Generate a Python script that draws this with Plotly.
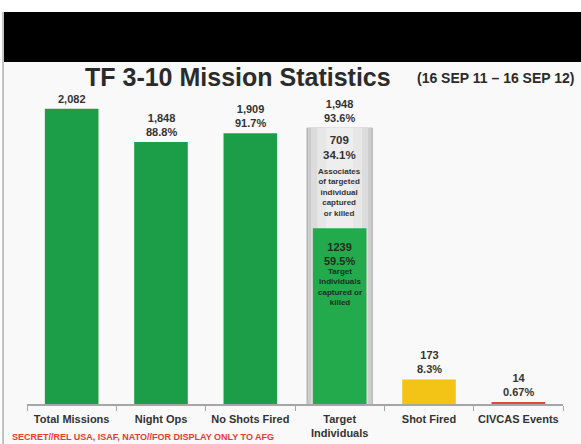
import plotly.graph_objects as go

# ---- data ----
categories = ["Total Missions", "Night Ops", "No Shots Fired", "Target Individuals", "Shot Fired", "CIVCAS Events"]
tick_labels = ["Total Missions", "Night Ops", "No Shots Fired", "Target<br>Individuals", "Shot Fired", "CIVCAS Events"]
values = [2082, 1848, 1909, 1948, 173, 14]
value_labels = ["2,082", "1,848<br>88.8%", "1,909<br>91.7%", "1,948<br>93.6%", "173<br>8.3%", "14<br>0.67%"]

target_individuals = 1239
target_associates = 709
associates_label = "709<br>34.1%"
associates_desc = "Associates<br>of targeted<br>individual<br>captured<br>or killed"
targets_label = "1239<br>59.5%"
targets_desc = "Target<br>individuals<br>captured or<br>killed"

title_text = "TF 3-10 Mission Statistics"
period_text = "(16 SEP 11 – 16 SEP 12)"
classification = "SECRET//REL USA, ISAF, NATO//FOR DISPLAY ONLY TO AFG"

# ---- styles ----
GREEN = "#1c9e49"
YELLOW = "#f3c416"
RED = "#e4483d"
TXT = "#333333"
FONT = "Liberation Sans, Arial, sans-serif"

W, H = 581, 444
ML, MR, MT, MB = 27, 18, 92, 40
PW, PH = W - ML - MR, H - MT - MB


def px_x(px):
    return (px - ML) / PW


def px_y(py):
    return (H - MB - py) / PH


color_map = {"Total Missions": GREEN, "Night Ops": GREEN, "No Shots Fired": GREEN,
             "Shot Fired": YELLOW, "CIVCAS Events": RED}

fig = go.Figure()

simple_cats = [c for c in categories if c != "Target Individuals"]
simple_vals = [v for c, v in zip(categories, values) if c != "Target Individuals"]
fig.add_trace(go.Bar(x=simple_cats, y=simple_vals, width=0.6,
                     marker=dict(color=[color_map[c] for c in simple_cats], line=dict(width=0)),
                     hoverinfo="skip"))

# silver stacked bar (gradient approximation with layered bars)
total_target = target_individuals + target_associates
for w, col in [(0.74, "#a4a4a4"), (0.72, "#cbcbcb"), (0.64, "#dcdcdc"), (0.5, "#e7e7e7"), (0.3, "#eeeeee")]:
    fig.add_trace(go.Bar(x=["Target Individuals"], y=[total_target], width=w,
                         marker=dict(color=col, line=dict(width=0)), hoverinfo="skip"))
fig.add_trace(go.Bar(x=["Target Individuals"], y=[target_individuals], width=0.6,
                     marker=dict(color="#22aa4c", line=dict(width=0)), hoverinfo="skip"))

annotations = []
for c, v, lab in zip(categories, values, value_labels):
    annotations.append(dict(x=c, y=v, xref="x", yref="y", text=lab, showarrow=False,
                            yanchor="bottom", yshift=2,
                            font=dict(family=FONT, size=11, color=TXT, weight="bold")))

annotations += [
    dict(x="Target Individuals", y=total_target, text=associates_label, yanchor="top", yshift=-4,
         font=dict(family=FONT, size=11.5, color=TXT, weight="bold")),
    dict(x="Target Individuals", y=total_target, text=associates_desc, yanchor="top", yshift=-37,
         font=dict(family=FONT, size=8, color=TXT, weight="bold")),
    dict(x="Target Individuals", y=target_individuals, text=targets_label, yanchor="top", yshift=-11,
         font=dict(family=FONT, size=11, color="#1d2e22", weight="bold")),
    dict(x="Target Individuals", y=target_individuals, text=targets_desc, yanchor="top", yshift=-37,
         font=dict(family=FONT, size=8, color="#1d2e22", weight="bold")),
]
for a in annotations[-4:]:
    a.update(xref="x", yref="y", showarrow=False)

annotations += [
    dict(x=px_x(238), y=px_y(77), xref="paper", yref="paper", text=title_text, showarrow=False,
         xanchor="center", yanchor="middle", font=dict(family=FONT, size=25, color="#2b2b2b", weight="bold")),
    dict(x=px_x(496), y=px_y(78), xref="paper", yref="paper", text=period_text, showarrow=False,
         xanchor="center", yanchor="middle", font=dict(family=FONT, size=14, color="#2b2b2b", weight="bold")),
    dict(x=px_x(10), y=px_y(437), xref="paper", yref="paper", text=classification, showarrow=False,
         xanchor="left", yanchor="middle", font=dict(family=FONT, size=9, color="#e8392e", weight="bold")),
]

shapes = [
    dict(type="rect", xref="paper", yref="paper", x0=px_x(3), x1=px_x(581), y0=px_y(444), y1=px_y(62),
         fillcolor="#f9f9f9", line=dict(width=0), layer="below"),
    dict(type="rect", xref="paper", yref="paper", x0=px_x(4), x1=px_x(582), y0=px_y(62), y1=px_y(12),
         fillcolor="#000000", line=dict(width=0)),
    dict(type="line", xref="paper", yref="paper", x0=px_x(3), x1=px_x(3), y0=px_y(445), y1=px_y(12),
         line=dict(color="#8a8a8a", width=1)),
]

fig.update_layout(
    width=W, height=H, margin=dict(l=ML, r=MR, t=MT, b=MB, pad=0, autoexpand=False),
    paper_bgcolor="white", plot_bgcolor="rgba(0,0,0,0)",
    barmode="overlay", showlegend=False,
    annotations=annotations, shapes=shapes,
    xaxis=dict(type="category", categoryorder="array", categoryarray=categories,
               tickmode="array", tickvals=categories, ticktext=tick_labels,
               range=[-0.5, len(categories) - 0.5], tickangle=0, automargin=False,
               showline=True, linecolor="#a6a6a6", linewidth=1.5,
               ticks="outside", tickson="boundaries", ticklen=5, tickcolor="#a6a6a6",
               ticklabelstandoff=4,
               tickfont=dict(family=FONT, size=11, color=TXT, weight="bold"),
               showgrid=False, zeroline=False, fixedrange=True),
    yaxis=dict(range=[0, 2200], visible=False, fixedrange=True, automargin=False),
)

fig.write_html("out.html", config={"displayModeBar": False})
